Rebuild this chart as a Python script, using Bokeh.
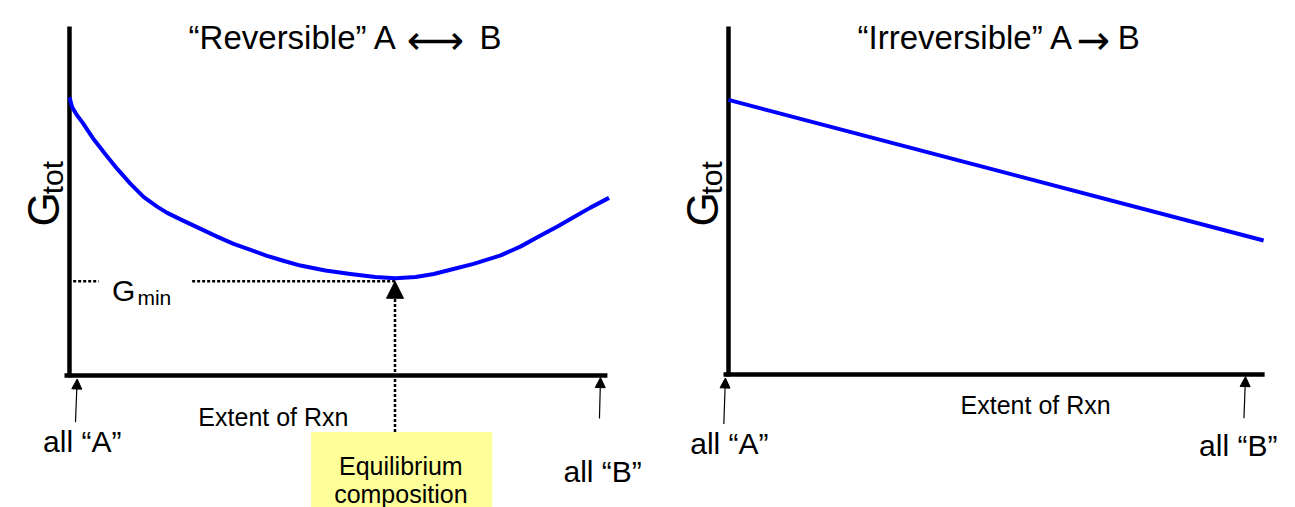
import math
from bokeh.plotting import figure
from bokeh.layouts import row
from bokeh.models import Range1d, Arrow, NormalHead
from bokeh.core.properties import value
from bokeh.embed import file_html
from bokeh.resources import INLINE

# ---------------- data (arbitrary units: extent 0..100, G 0..100) ----------------
# "Reversible" A <-> B : total Gibbs energy vs. extent of reaction
rev_extent = [0, 0.5, 1.45, 2.4, 4.6, 6.8, 9.0, 11.5, 14.0, 16.5, 18.4, 21.5, 24.7, 27.8,
              30.9, 34.1, 37.2, 40.4, 43.5, 48.2, 52.9, 57.6, 61.4, 65.2, 68.6, 72.3,
              76.1, 81.2, 85.0, 88.7, 91.9, 95.0, 98.1, 101.6]
rev_G = [79.7, 76.9, 74.5, 72.6, 67.6, 63.3, 59.2, 54.9, 51.1, 48.4, 46.6, 44.3, 42.0, 39.8,
         37.7, 36.0, 34.3, 32.8, 31.5, 30.1, 29.1, 28.2, 27.9, 28.2, 29.1, 30.5,
         32.0, 34.4, 37.0, 40.1, 42.7, 45.4, 48.1, 50.9]
gmin_level = 27.0

# "Irreversible" A -> B
irr_extent = [0, 103.5]
irr_G = [78.9, 38.5]

title_parts = [["\u201cReversible\u201d A", "\u27f7", "B"],
               ["\u201cIrreversible\u201d A", "\u2192", "B"]]
x_label = "Extent of Rxn"
start_label = "all \u201cA\u201d"
end_label = "all \u201cB\u201d"
eq_label = ["Equilibrium", "composition"]

FONT = value("Liberation Sans")
ARROW_FONT = value("DejaVu Sans")
eq_extent = rev_extent[rev_G.index(min(rev_G))]


def make_fig(width, xr, yr):
    p = figure(width=width, height=507, x_range=Range1d(*xr), y_range=Range1d(*yr),
               output_backend="svg", toolbar_location=None,
               x_axis_type=None, y_axis_type=None, min_border=0,
               outline_line_color=None, background_fill_color="white",
               border_fill_color="white")
    return p


def txt(p, x, y, s, size, align="left", angle=0.0, font=FONT):
    p.text(x=[x], y=[y], text=[s], text_font=font, text_font_size=f"{size}px",
           text_align=align, text_baseline="alphabetic", text_color="black", angle=angle)


def small_arrow(p, x0, y0, x1, y1):
    p.add_layout(Arrow(end=NormalHead(size=10, fill_color="black", line_color="black"),
                       x_start=x0, y_start=y0, x_end=x1, y_end=y1,
                       line_width=1.2, line_color="black"))


# ---------------- left panel ----------------
p1 = make_fig(658, (-12.99, 110.92), (-37.82, 107.45))

# axes
p1.segment(x0=[0, -0.94], y0=[-0.6, 0], x1=[0, 101.3], y1=[100, 0], line_width=4.5, line_color="black")

# yellow box
p1.quad(left=[45.5], right=[79.6], top=[-16.2], bottom=[-45], fill_color="#ffff99", line_color=None)

# G_min dotted line
p1.segment(x0=[0.7, 23.1], x1=[5.5, eq_extent], y0=[gmin_level, gmin_level], y1=[gmin_level, gmin_level],
           line_dash="3 2", line_width=2.5, line_color="black")

# curve
p1.line(rev_extent, rev_G, line_color="#0000ff", line_width=4, line_join="round")

# equilibrium arrow
p1.add_layout(Arrow(end=NormalHead(size=17, fill_color="black", line_color="black"),
                    x_start=eq_extent - 0.1, y_start=-16.2, x_end=eq_extent - 0.1, y_end=gmin_level,
                    line_dash="3 2", line_width=2.5, line_color="black"))

small_arrow(p1, 1.13, -13.4, 1.45, -1.0)
small_arrow(p1, 99.8, -12.3, 100.0, -0.6)

txt(p1, 61.8, 96.9, title_parts[0][0], 33, "right")
txt(p1, 68.9, 96.0, title_parts[0][1], 40, "center", font=ARROW_FONT)
txt(p1, 77.2, 96.9, title_parts[0][2], 33, "left")
txt(p1, -4.84, 42.7, "G", 44, "left", math.pi / 2)
txt(p1, -3.26, 51.9, "tot", 30, "left", math.pi / 2)
txt(p1, 8.0, 24.4, "G", 30)
txt(p1, 12.8, 22.3, "min", 21)
txt(p1, 38.4, -11.9, x_label, 25, "center")
txt(p1, 2.4, -18.9, start_label, 30, "center")
txt(p1, 100.4, -27.5, end_label, 30, "center")
txt(p1, 62.4, -25.8, eq_label[0], 25, "center")
txt(p1, 62.4, -33.9, eq_label[1], 25, "center")

# ---------------- right panel ----------------
p2 = make_fig(637, (-13.54, 109.67), (-38.22, 107.47))

p2.segment(x0=[0, -0.97], y0=[-0.6, 0], x1=[0, 103.7], y1=[100, 0], line_width=4.5, line_color="black")
p2.line(irr_extent, irr_G, line_color="#0000ff", line_width=4)

small_arrow(p2, -0.9, -14.2, -0.6, -1.0)
small_arrow(p2, 99.7, -12.6, 100.0, -0.6)

txt(p2, 66.8, 96.75, title_parts[1][0], 33, "right")
txt(p2, 70.6, 96.0, title_parts[1][1], 40, "center", font=ARROW_FONT)
txt(p2, 75.3, 96.75, title_parts[1][2], 33, "left")
txt(p2, -4.97, 42.5, "G", 44, "left", math.pi / 2)
txt(p2, -3.35, 51.7, "tot", 30, "left", math.pi / 2)
txt(p2, 59.4, -8.9, x_label, 25, "center")
txt(p2, 0.17, -19.9, start_label, 30, "center")
txt(p2, 98.6, -20.4, end_label, 30, "center")

layout = row(p1, p2)
open("out.html", "w").write(file_html(layout, INLINE))
